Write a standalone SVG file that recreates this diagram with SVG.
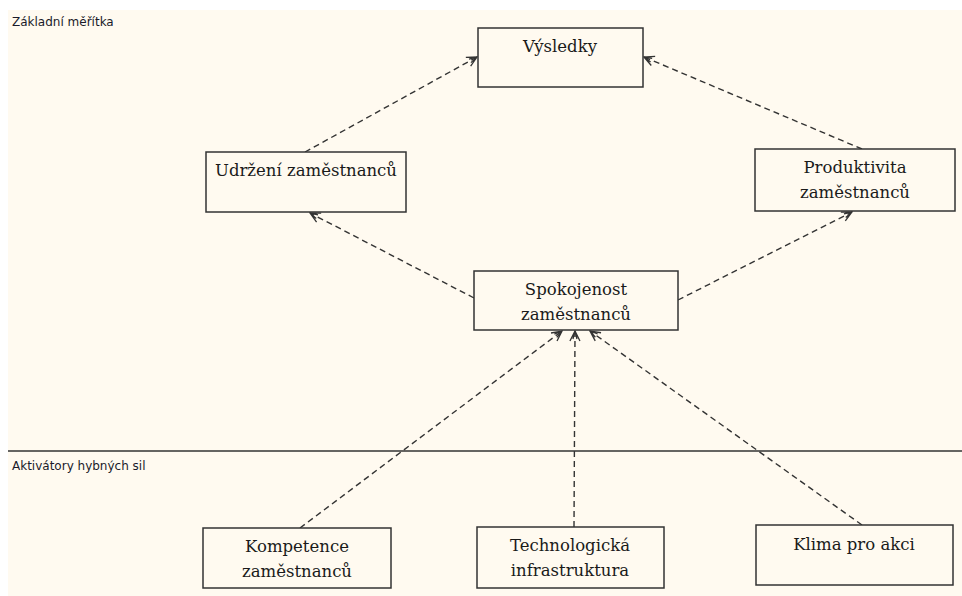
<svg xmlns="http://www.w3.org/2000/svg" width="962" height="596" viewBox="0 0 962 596">
  <defs>
    <marker id="arrow" viewBox="0 0 12 12" refX="11" refY="6" markerWidth="12" markerHeight="12" markerUnits="userSpaceOnUse" orient="auto">
      <path d="M1,1 L11,6 L1,11 M3,4 L11,6 L3,8" fill="none" stroke="#333" stroke-width="1.3"/>
    </marker>
    <style>
      .box { fill: #fffaf0; stroke: #333; stroke-width: 1.5; }
      .lbl { font-family: "DejaVu Serif", "Liberation Serif", serif; font-size: 16.5px; fill: #1a1a1a; text-anchor: middle; }
      .zone { font-family: "DejaVu Sans", "Liberation Sans", sans-serif; font-size: 12px; fill: #1a1a2a; }
      .conn { fill: none; stroke: #333; stroke-width: 1.4; stroke-dasharray: 6 4; marker-end: url(#arrow); }
    </style>
  </defs>

  <rect x="0" y="0" width="962" height="596" fill="#ffffff"/>
  <rect x="8" y="10" width="954" height="586" fill="#fffaf0"/>

  <!-- zone labels and divider -->
  <text class="zone" x="12" y="26">Základní měřítka</text>
  <line x1="8" y1="451" x2="962" y2="451" stroke="#333" stroke-width="1.3"/>
  <text class="zone" x="12" y="470">Aktivátory hybných sil</text>

  <!-- connectors -->
  <g id="connectors">
    <line class="conn" x1="305" y1="152" x2="477" y2="57"/>
    <line class="conn" x1="862" y1="149" x2="644" y2="57"/>
    <line class="conn" x1="474" y1="298" x2="310" y2="213"/>
    <line class="conn" x1="678" y1="300" x2="852" y2="212"/>
    <line class="conn" x1="300" y1="528" x2="562" y2="331"/>
    <line class="conn" x1="574" y1="527" x2="575" y2="331"/>
    <line class="conn" x1="862" y1="525" x2="590" y2="331"/>
  </g>

  <g id="vysledky">
    <rect class="box" x="478" y="28" width="165" height="59"/>
    <text class="lbl" x="560" y="52">Výsledky</text>
  </g>

  <g id="udrzeni">
    <rect class="box" x="206" y="152" width="200" height="60"/>
    <text class="lbl" x="306" y="176">Udržení zaměstnanců</text>
  </g>

  <g id="produktivita">
    <rect class="box" x="755" y="149" width="200" height="62"/>
    <text class="lbl" x="855" y="173">Produktivita</text>
    <text class="lbl" x="855" y="198">zaměstnanců</text>
  </g>

  <g id="spokojenost">
    <rect class="box" x="474" y="271" width="204" height="59"/>
    <text class="lbl" x="576" y="295">Spokojenost</text>
    <text class="lbl" x="576" y="320">zaměstnanců</text>
  </g>

  <g id="kompetence">
    <rect class="box" x="203" y="528" width="188" height="60"/>
    <text class="lbl" x="297" y="552">Kompetence</text>
    <text class="lbl" x="297" y="577">zaměstnanců</text>
  </g>

  <g id="technologie">
    <rect class="box" x="477" y="527" width="187" height="61"/>
    <text class="lbl" x="570" y="551">Technologická</text>
    <text class="lbl" x="570" y="576">infrastruktura</text>
  </g>

  <g id="klima">
    <rect class="box" x="756" y="525" width="197" height="60"/>
    <text class="lbl" x="854" y="550">Klima pro akci</text>
  </g>
</svg>
